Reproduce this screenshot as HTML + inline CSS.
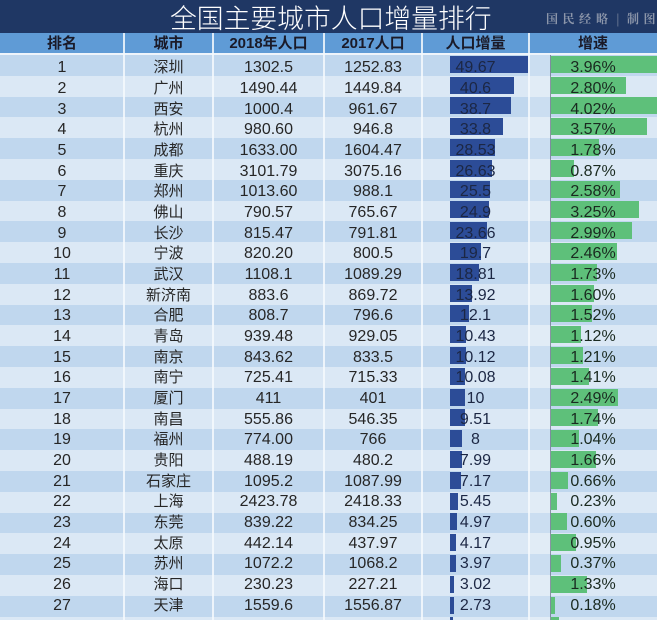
<!DOCTYPE html>
<html><head><meta charset="utf-8">
<style>
*{margin:0;padding:0;box-sizing:border-box}
html,body{width:657px;height:620px;overflow:hidden;background:#dbe8f5}
body{position:relative;font-family:"Liberation Sans","Noto Sans CJK SC",sans-serif;color:#222}
.a{position:absolute}
.title{left:0;top:0;width:657px;height:33px;background:#1f3764}
.tt{left:170px;top:0;height:33px;line-height:34px;font-size:26.8px;color:#fff;font-family:"Noto Sans CJK SC",sans-serif;white-space:nowrap;font-weight:300}
.wm{top:12px;font-size:12px;line-height:14px;color:#8c96aa;font-weight:bold;font-family:"Noto Serif CJK SC","Noto Sans CJK SC",serif}
.hdr{left:0;top:33px;width:657px;height:20px;background:#5f9bd6}
.hl{top:33px;height:20px;line-height:22px;font-size:15px;font-weight:bold;color:#1a1a28;text-align:center;font-family:"Liberation Sans","Noto Sans CJK SC",sans-serif}
.sep{top:53px;left:0;width:657px;height:2px;background:#eef4fb}
.o{background:#c0d7ee}
.e{background:#dbe8f5}
.row{left:0;width:657px;height:20.8px}
.vl{top:33px;width:2px;height:587px;background:rgba(245,249,253,0.85)}
.b{height:17px;background:#2c4c97}
.g{height:17px;background:#5ec07a}
.t{height:20px;line-height:20px;font-size:16px;text-align:center;white-space:nowrap;color:#262626}
.c1{left:0;width:124px}
.c2{left:124px;width:89px;font-size:15px}
.c3{left:213px;width:111px}
.c4{left:324px;width:98px}
.c5{left:422px;width:107px;color:#1c2744}
.c6{left:529px;width:128px;color:#1a2a20}
</style></head><body>
<div class="a title"></div>
<div class="a tt">全国主要城市人口增量排行</div>
<div class="a wm" style="left:546px">国</div>
<div class="a wm" style="left:562.5px">民</div>
<div class="a wm" style="left:579px">经</div>
<div class="a wm" style="left:596px">略</div>
<div class="a wm" style="left:616px;font-weight:normal">|</div>
<div class="a wm" style="left:627px">制</div>
<div class="a wm" style="left:643.5px">图</div>
<div class="a hdr"></div>
<div class="a hl c1">排名</div>
<div class="a hl" style="left:124px;width:89px">城市</div>
<div class="a hl c3">2018年人口</div>
<div class="a hl c4">2017人口</div>
<div class="a hl" style="left:422px;width:107px">人口增量</div>
<div class="a hl" style="left:529px;width:128px">增速</div>
<div class="a sep"></div>

<div class="a row o" style="top:55px"></div>
<div class="a row e" style="top:75.8px"></div>
<div class="a row o" style="top:96.6px"></div>
<div class="a row e" style="top:117.4px"></div>
<div class="a row o" style="top:138.2px"></div>
<div class="a row e" style="top:159px"></div>
<div class="a row o" style="top:179.8px"></div>
<div class="a row e" style="top:200.6px"></div>
<div class="a row o" style="top:221.4px"></div>
<div class="a row e" style="top:242.2px"></div>
<div class="a row o" style="top:263px"></div>
<div class="a row e" style="top:283.8px"></div>
<div class="a row o" style="top:304.6px"></div>
<div class="a row e" style="top:325.4px"></div>
<div class="a row o" style="top:346.2px"></div>
<div class="a row e" style="top:367px"></div>
<div class="a row o" style="top:387.8px"></div>
<div class="a row e" style="top:408.6px"></div>
<div class="a row o" style="top:429.4px"></div>
<div class="a row e" style="top:450.2px"></div>
<div class="a row o" style="top:471px"></div>
<div class="a row e" style="top:491.8px"></div>
<div class="a row o" style="top:512.6px"></div>
<div class="a row e" style="top:533.4px"></div>
<div class="a row o" style="top:554.2px"></div>
<div class="a row e" style="top:575px"></div>
<div class="a row o" style="top:595.8px"></div>
<div class="a row e" style="top:616.6px"></div>

<div class="a" style="left:529px;top:55px;width:21px;height:565px;background:rgba(255,255,255,0.18)"></div>

<div class="a vl" style="left:123px"></div>
<div class="a vl" style="left:212px"></div>
<div class="a vl" style="left:323px"></div>
<div class="a vl" style="left:421px"></div>
<div class="a vl" style="left:528px"></div>
<div class="a" style="left:550px;top:55px;width:1px;height:565px;background:rgba(70,80,95,0.55)"></div>

<div class="a b" style="left:449.5px;top:55.7px;width:78.5px"></div>
<div class="a b" style="left:449.5px;top:76.5px;width:64.1px"></div>
<div class="a b" style="left:449.5px;top:97.3px;width:61.1px"></div>
<div class="a b" style="left:449.5px;top:118.1px;width:53.4px"></div>
<div class="a b" style="left:449.5px;top:138.9px;width:45.1px"></div>
<div class="a b" style="left:449.5px;top:159.7px;width:42.1px"></div>
<div class="a b" style="left:449.5px;top:180.5px;width:40.3px"></div>
<div class="a b" style="left:449.5px;top:201.3px;width:39.3px"></div>
<div class="a b" style="left:449.5px;top:222.1px;width:37.4px"></div>
<div class="a b" style="left:449.5px;top:242.9px;width:31.1px"></div>
<div class="a b" style="left:449.5px;top:263.7px;width:29.7px"></div>
<div class="a b" style="left:449.5px;top:284.5px;width:22px"></div>
<div class="a b" style="left:449.5px;top:305.3px;width:19.1px"></div>
<div class="a b" style="left:449.5px;top:326.1px;width:16.5px"></div>
<div class="a b" style="left:449.5px;top:346.9px;width:16px"></div>
<div class="a b" style="left:449.5px;top:367.7px;width:15.9px"></div>
<div class="a b" style="left:449.5px;top:388.5px;width:15.8px"></div>
<div class="a b" style="left:449.5px;top:409.3px;width:15px"></div>
<div class="a b" style="left:449.5px;top:430.1px;width:12.6px"></div>
<div class="a b" style="left:449.5px;top:450.9px;width:12.6px"></div>
<div class="a b" style="left:449.5px;top:471.7px;width:11.3px"></div>
<div class="a b" style="left:449.5px;top:492.5px;width:8.6px"></div>
<div class="a b" style="left:449.5px;top:513.3px;width:7.9px"></div>
<div class="a b" style="left:449.5px;top:534.1px;width:6.6px"></div>
<div class="a b" style="left:449.5px;top:554.9px;width:6.3px"></div>
<div class="a b" style="left:449.5px;top:575.7px;width:4.8px"></div>
<div class="a b" style="left:449.5px;top:596.5px;width:4.3px"></div>
<div class="a b" style="left:449.5px;top:617.3px;width:3px"></div>

<div class="a g" style="left:550.5px;top:55.7px;width:106.5px"></div>
<div class="a g" style="left:550.5px;top:76.5px;width:75.9px"></div>
<div class="a g" style="left:550.5px;top:97.3px;width:106.5px"></div>
<div class="a g" style="left:550.5px;top:118.1px;width:96.7px"></div>
<div class="a g" style="left:550.5px;top:138.9px;width:48.2px"></div>
<div class="a g" style="left:550.5px;top:159.7px;width:23.6px"></div>
<div class="a g" style="left:550.5px;top:180.5px;width:69.9px"></div>
<div class="a g" style="left:550.5px;top:201.3px;width:88.1px"></div>
<div class="a g" style="left:550.5px;top:222.1px;width:81px"></div>
<div class="a g" style="left:550.5px;top:242.9px;width:66.7px"></div>
<div class="a g" style="left:550.5px;top:263.7px;width:46.9px"></div>
<div class="a g" style="left:550.5px;top:284.5px;width:43.4px"></div>
<div class="a g" style="left:550.5px;top:305.3px;width:41.2px"></div>
<div class="a g" style="left:550.5px;top:326.1px;width:30.4px"></div>
<div class="a g" style="left:550.5px;top:346.9px;width:32.8px"></div>
<div class="a g" style="left:550.5px;top:367.7px;width:38.2px"></div>
<div class="a g" style="left:550.5px;top:388.5px;width:67.5px"></div>
<div class="a g" style="left:550.5px;top:409.3px;width:47.2px"></div>
<div class="a g" style="left:550.5px;top:430.1px;width:28.2px"></div>
<div class="a g" style="left:550.5px;top:450.9px;width:45px"></div>
<div class="a g" style="left:550.5px;top:471.7px;width:17.9px"></div>
<div class="a g" style="left:550.5px;top:492.5px;width:6.2px"></div>
<div class="a g" style="left:550.5px;top:513.3px;width:16.3px"></div>
<div class="a g" style="left:550.5px;top:534.1px;width:25.7px"></div>
<div class="a g" style="left:550.5px;top:554.9px;width:10px"></div>
<div class="a g" style="left:550.5px;top:575.7px;width:36px"></div>
<div class="a g" style="left:550.5px;top:596.5px;width:4.9px"></div>
<div class="a g" style="left:550.5px;top:617.3px;width:8px"></div>

<div class="a" style="left:0;top:58.4px;width:657px"><div class="a t c1">1</div><div class="a t c2">深圳</div><div class="a t c3">1302.5</div><div class="a t c4">1252.83</div><div class="a t c5">49.67</div><div class="a t c6">3.96%</div></div>
<div class="a" style="left:0;top:79.1px;width:657px"><div class="a t c1">2</div><div class="a t c2">广州</div><div class="a t c3">1490.44</div><div class="a t c4">1449.84</div><div class="a t c5">40.6</div><div class="a t c6">2.80%</div></div>
<div class="a" style="left:0;top:99.7px;width:657px"><div class="a t c1">3</div><div class="a t c2">西安</div><div class="a t c3">1000.4</div><div class="a t c4">961.67</div><div class="a t c5">38.7</div><div class="a t c6">4.02%</div></div>
<div class="a" style="left:0;top:120.4px;width:657px"><div class="a t c1">4</div><div class="a t c2">杭州</div><div class="a t c3">980.60</div><div class="a t c4">946.8</div><div class="a t c5">33.8</div><div class="a t c6">3.57%</div></div>
<div class="a" style="left:0;top:141px;width:657px"><div class="a t c1">5</div><div class="a t c2">成都</div><div class="a t c3">1633.00</div><div class="a t c4">1604.47</div><div class="a t c5">28.53</div><div class="a t c6">1.78%</div></div>
<div class="a" style="left:0;top:161.7px;width:657px"><div class="a t c1">6</div><div class="a t c2">重庆</div><div class="a t c3">3101.79</div><div class="a t c4">3075.16</div><div class="a t c5">26.63</div><div class="a t c6">0.87%</div></div>
<div class="a" style="left:0;top:182.4px;width:657px"><div class="a t c1">7</div><div class="a t c2">郑州</div><div class="a t c3">1013.60</div><div class="a t c4">988.1</div><div class="a t c5">25.5</div><div class="a t c6">2.58%</div></div>
<div class="a" style="left:0;top:203px;width:657px"><div class="a t c1">8</div><div class="a t c2">佛山</div><div class="a t c3">790.57</div><div class="a t c4">765.67</div><div class="a t c5">24.9</div><div class="a t c6">3.25%</div></div>
<div class="a" style="left:0;top:223.7px;width:657px"><div class="a t c1">9</div><div class="a t c2">长沙</div><div class="a t c3">815.47</div><div class="a t c4">791.81</div><div class="a t c5">23.66</div><div class="a t c6">2.99%</div></div>
<div class="a" style="left:0;top:244.3px;width:657px"><div class="a t c1">10</div><div class="a t c2">宁波</div><div class="a t c3">820.20</div><div class="a t c4">800.5</div><div class="a t c5">19.7</div><div class="a t c6">2.46%</div></div>
<div class="a" style="left:0;top:265px;width:657px"><div class="a t c1">11</div><div class="a t c2">武汉</div><div class="a t c3">1108.1</div><div class="a t c4">1089.29</div><div class="a t c5">18.81</div><div class="a t c6">1.73%</div></div>
<div class="a" style="left:0;top:285.7px;width:657px"><div class="a t c1">12</div><div class="a t c2">新济南</div><div class="a t c3">883.6</div><div class="a t c4">869.72</div><div class="a t c5">13.92</div><div class="a t c6">1.60%</div></div>
<div class="a" style="left:0;top:306.3px;width:657px"><div class="a t c1">13</div><div class="a t c2">合肥</div><div class="a t c3">808.7</div><div class="a t c4">796.6</div><div class="a t c5">12.1</div><div class="a t c6">1.52%</div></div>
<div class="a" style="left:0;top:327px;width:657px"><div class="a t c1">14</div><div class="a t c2">青岛</div><div class="a t c3">939.48</div><div class="a t c4">929.05</div><div class="a t c5">10.43</div><div class="a t c6">1.12%</div></div>
<div class="a" style="left:0;top:347.6px;width:657px"><div class="a t c1">15</div><div class="a t c2">南京</div><div class="a t c3">843.62</div><div class="a t c4">833.5</div><div class="a t c5">10.12</div><div class="a t c6">1.21%</div></div>
<div class="a" style="left:0;top:368.3px;width:657px"><div class="a t c1">16</div><div class="a t c2">南宁</div><div class="a t c3">725.41</div><div class="a t c4">715.33</div><div class="a t c5">10.08</div><div class="a t c6">1.41%</div></div>
<div class="a" style="left:0;top:388.9px;width:657px"><div class="a t c1">17</div><div class="a t c2">厦门</div><div class="a t c3">411</div><div class="a t c4">401</div><div class="a t c5">10</div><div class="a t c6">2.49%</div></div>
<div class="a" style="left:0;top:409.6px;width:657px"><div class="a t c1">18</div><div class="a t c2">南昌</div><div class="a t c3">555.86</div><div class="a t c4">546.35</div><div class="a t c5">9.51</div><div class="a t c6">1.74%</div></div>
<div class="a" style="left:0;top:430.3px;width:657px"><div class="a t c1">19</div><div class="a t c2">福州</div><div class="a t c3">774.00</div><div class="a t c4">766</div><div class="a t c5">8</div><div class="a t c6">1.04%</div></div>
<div class="a" style="left:0;top:450.9px;width:657px"><div class="a t c1">20</div><div class="a t c2">贵阳</div><div class="a t c3">488.19</div><div class="a t c4">480.2</div><div class="a t c5">7.99</div><div class="a t c6">1.66%</div></div>
<div class="a" style="left:0;top:471.6px;width:657px"><div class="a t c1">21</div><div class="a t c2">石家庄</div><div class="a t c3">1095.2</div><div class="a t c4">1087.99</div><div class="a t c5">7.17</div><div class="a t c6">0.66%</div></div>
<div class="a" style="left:0;top:492.3px;width:657px"><div class="a t c1">22</div><div class="a t c2">上海</div><div class="a t c3">2423.78</div><div class="a t c4">2418.33</div><div class="a t c5">5.45</div><div class="a t c6">0.23%</div></div>
<div class="a" style="left:0;top:512.9px;width:657px"><div class="a t c1">23</div><div class="a t c2">东莞</div><div class="a t c3">839.22</div><div class="a t c4">834.25</div><div class="a t c5">4.97</div><div class="a t c6">0.60%</div></div>
<div class="a" style="left:0;top:533.6px;width:657px"><div class="a t c1">24</div><div class="a t c2">太原</div><div class="a t c3">442.14</div><div class="a t c4">437.97</div><div class="a t c5">4.17</div><div class="a t c6">0.95%</div></div>
<div class="a" style="left:0;top:554.2px;width:657px"><div class="a t c1">25</div><div class="a t c2">苏州</div><div class="a t c3">1072.2</div><div class="a t c4">1068.2</div><div class="a t c5">3.97</div><div class="a t c6">0.37%</div></div>
<div class="a" style="left:0;top:574.9px;width:657px"><div class="a t c1">26</div><div class="a t c2">海口</div><div class="a t c3">230.23</div><div class="a t c4">227.21</div><div class="a t c5">3.02</div><div class="a t c6">1.33%</div></div>
<div class="a" style="left:0;top:595.6px;width:657px"><div class="a t c1">27</div><div class="a t c2">天津</div><div class="a t c3">1559.6</div><div class="a t c4">1556.87</div><div class="a t c5">2.73</div><div class="a t c6">0.18%</div></div>
</body></html>
